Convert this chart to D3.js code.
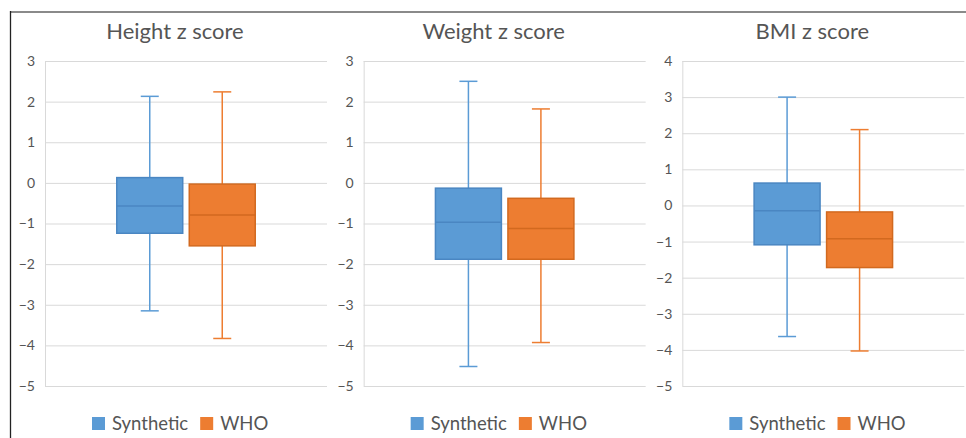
<!DOCTYPE html>
<html>
<head>
<meta charset="utf-8">
<script src="https://cdn.jsdelivr.net/npm/d3@7"></script>
<style>
  body { margin: 0; background: #fff; }
  text { font-family: Lato, "Open Sans", sans-serif; fill: #555; }
</style>
</head>
<body>
<svg id="chart" width="966" height="438"></svg>
<script>
// panel titles and series
const panels = ["Height z score", "Weight z score", "BMI z score"];
const series = ["Synthetic", "WHO"];

// y axis extent per panel
const yMin = [-5, -5, -5];
const yMax = [3, 3, 4];

// box values (per panel)
const synLow  = [-3.15, -4.52, -3.63];
const synQ1   = [-1.24, -1.88, -1.09];
const synMed  = [-0.57, -0.97, -0.15];
const synQ3   = [0.13, -0.13, 0.62];
const synHigh = [2.13, 2.50, 3.00];

const whoLow  = [-3.83, -3.93, -4.03];
const whoQ1   = [-1.55, -1.88, -1.72];
const whoMed  = [-0.79, -1.12, -0.92];
const whoQ3   = [-0.03, -0.38, -0.18];
const whoHigh = [2.24, 1.82, 2.10];

const fills = {Synthetic: "#5b9bd5", WHO: "#ed7d31"};
const strokes = {Synthetic: "#4a86c2", WHO: "#d2691f"};

const svg = d3.select("#chart");

// outer frame: grey top rule and dark left rule
svg.append("line").attr("x1", 10).attr("x2", 966).attr("y1", 12).attr("y2", 12)
  .attr("stroke", "#8a8a8a").attr("stroke-width", 2);
svg.append("line").attr("x1", 10.5).attr("x2", 10.5).attr("y1", 11).attr("y2", 438)
  .attr("stroke", "#222").attr("stroke-width", 1.3);

const panelX = d3.scaleBand().domain(panels).range([10, 966]);
const plotW = 282, plotTop = 61, plotBottom = 386;

panels.forEach((name, i) => {
  const x0 = panelX(name);
  const g = svg.append("g").attr("transform", `translate(${x0 + 35},0)`);

  const y = d3.scaleLinear().domain([yMin[i], yMax[i]]).range([plotBottom, plotTop]);
  const x = d3.scaleBand().domain(series).range([0, plotW])
    .paddingInner(0.09).paddingOuter(0.99);

  // gridlines
  g.append("g").call(d3.axisLeft(y).ticks(yMax[i] - yMin[i]).tickSize(-plotW).tickFormat(""))
    .call(a => a.select(".domain").remove())
    .selectAll("line").attr("stroke", "#d9d9d9");
  g.append("line").attr("x1", 0.5).attr("x2", 0.5).attr("y1", plotTop).attr("y2", plotBottom)
    .attr("stroke", "#d9d9d9");

  // tick labels
  g.append("g").call(d3.axisLeft(y).ticks(yMax[i] - yMin[i]).tickSize(0).tickPadding(10).tickFormat(d3.format("d")))
    .call(a => a.select(".domain").remove())
    .selectAll("text").style("font-size", "14px").attr("fill", "#555")
    .style("font-family", "Lato, sans-serif");

  const stats = [
    {s: "Synthetic", lo: synLow[i], q1: synQ1[i], med: synMed[i], q3: synQ3[i], hi: synHigh[i]},
    {s: "WHO", lo: whoLow[i], q1: whoQ1[i], med: whoMed[i], q3: whoQ3[i], hi: whoHigh[i]}
  ];

  const box = g.selectAll(".box").data(stats).enter().append("g").attr("class", "box");
  const cx = d => x(d.s) + x.bandwidth() / 2;

  // whiskers
  box.append("line").attr("x1", cx).attr("x2", cx)
    .attr("y1", d => y(d.hi)).attr("y2", d => y(d.q3))
    .attr("stroke", d => fills[d.s]).attr("stroke-width", 1.5);
  box.append("line").attr("x1", cx).attr("x2", cx)
    .attr("y1", d => y(d.q1)).attr("y2", d => y(d.lo))
    .attr("stroke", d => fills[d.s]).attr("stroke-width", 1.5);
  box.append("line").attr("x1", d => cx(d) - 9).attr("x2", d => cx(d) + 9)
    .attr("y1", d => y(d.hi)).attr("y2", d => y(d.hi))
    .attr("stroke", d => fills[d.s]).attr("stroke-width", 1.5);
  box.append("line").attr("x1", d => cx(d) - 9).attr("x2", d => cx(d) + 9)
    .attr("y1", d => y(d.lo)).attr("y2", d => y(d.lo))
    .attr("stroke", d => fills[d.s]).attr("stroke-width", 1.5);

  // boxes
  box.append("rect").attr("x", d => x(d.s)).attr("width", x.bandwidth())
    .attr("y", d => y(d.q3)).attr("height", d => y(d.q1) - y(d.q3))
    .attr("fill", d => fills[d.s]).attr("stroke", d => strokes[d.s]).attr("stroke-width", 1.5);
  box.append("line").attr("x1", d => x(d.s)).attr("x2", d => x(d.s) + x.bandwidth())
    .attr("y1", d => y(d.med)).attr("y2", d => y(d.med))
    .attr("stroke", d => strokes[d.s]).attr("stroke-width", 1.5);

  // title
  svg.append("text").attr("x", x0 + 165).attr("y", 39).attr("text-anchor", "middle")
    .style("font-size", "22px").text(name);

  // legend
  const leg = svg.append("g").attr("transform", `translate(${x0 + 82},417)`);
  let lx = 0;
  series.forEach(s => {
    const item = leg.append("g").attr("transform", `translate(${lx},0)`);
    item.append("rect").attr("width", 13).attr("height", 13).attr("fill", fills[s]);
    const t = item.append("text").attr("x", 20).attr("y", 13).style("font-size", "18.5px").text(s);
    lx += 20 + t.node().getComputedTextLength() + 12;
  });
});
</script>
</body>
</html>
